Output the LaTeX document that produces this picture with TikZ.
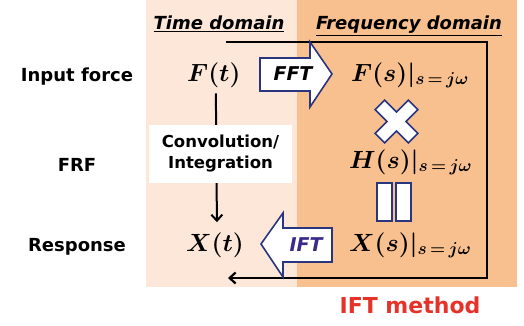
\documentclass[tikz,border=0pt]{standalone}
\usepackage{fontspec}
\setmainfont{DejaVu Sans}
\usepackage{amsmath,bm}
\usetikzlibrary{arrows.meta}
\definecolor{peach}{HTML}{FDE7D8}
\definecolor{apricot}{HTML}{F8C08E}
\definecolor{navy}{HTML}{2A3580}
\definecolor{iftblue}{HTML}{3B2A8C}
\definecolor{redlbl}{HTML}{E5332A}
\newcommand{\atjw}{\hbox{\fontsize{18}{20}\selectfont\boldmath$\bm{s\,{=}\,j\omega}$}}
\tikzstyle{lbl} = [font=\fontsize{18}{20}\selectfont\bfseries, inner sep=0pt, anchor=base]
\tikzstyle{hdr} = [font=\fontsize{18}{20}\selectfont\bfseries\itshape, inner sep=0pt, anchor=base]
\tikzstyle{eq} = [font=\fontsize{26}{28}\selectfont\boldmath, inner sep=0pt, anchor=base west]
\tikzstyle{blk} = [draw=navy, fill=white, line width=1.6pt, line join=miter]
\tikzstyle{tag} = [font=\fontsize{19}{20}\selectfont\bfseries\itshape, inner sep=0pt]

\begin{document}
\begin{tikzpicture}[x=1pt,y=-1pt,>={Straight Barb[length=6pt,width=11pt]}]
  \useasboundingbox (0,0) rectangle (524,325);
  % domain backgrounds
  \fill[peach]   (146,0) rectangle (297,287);
  \fill[apricot] (297,0) rectangle (517,287);

  \node[hdr] (tdom) at (219,29) {\underline{Time domain}};
  \node[hdr] (fdom) at (409,29) {\underline{Frequency domain}};

  \node[lbl] (inp)  at (77,81)  {Input force};
  \node[lbl] (frf)  at (77,171) {FRF};
  \node[lbl] (resp) at (77,251) {Response};

  \node[eq] (Ft) at (187,81)  {$F(t)$};
  \node[eq] (Fs) at (351,81)  {$F(s)|_{\atjw}$};
  \node[eq] (Hs) at (349,168) {$H(s)|_{\atjw}$};
  \node[eq] (Xs) at (349,251) {$X(s)|_{\atjw}$};
  \node[eq] (Xt) at (186,251) {$X(t)$};

  % IFT loop
  \coordinate (lpA) at (226,42);
  \coordinate (lpB) at (487,42);
  \coordinate (lpC) at (487,278);
  \coordinate (lpD) at (228,278);
  \draw[line width=2.2pt,->] (lpA) -- (lpB) -- (lpC) -- (lpD);

  % convolution path
  \draw[line width=2pt,->,shorten <=6pt,shorten >=10pt]
    ([xshift=2pt]Ft.south) -- ([xshift=2pt]Xt.north);
  \node[fill=white,font=\fontsize{16.5}{21}\selectfont\bfseries,align=center,
        minimum width=143pt,minimum height=58pt] (conv) at (220.5,154)
        {Convolution/\\Integration};

  % FFT / IFT block arrows
  \draw[blk] (260,58) -- (310,58) -- (310,42) -- (332,74) -- (310,107)
    -- (310,91) -- (260,91) -- cycle;
  \node[tag] (fft) at (293,74) {FFT};
  \draw[blk] (332,228) -- (283,228) -- (283,213) -- (261,244) -- (283,277)
    -- (283,262) -- (332,262) -- cycle;
  \node[tag,text=iftblue] (ift) at (306,245) {IFT};

  % times and equals signs
  \draw[blk,shift={(396.5,121.5)},rotate=45]
    (23.5,6.7) -- (6.7,6.7) -- (6.7,23.5) -- (-6.7,23.5) -- (-6.7,6.7)
    -- (-23.5,6.7) -- (-23.5,-6.7) -- (-6.7,-6.7) -- (-6.7,-23.5)
    -- (6.7,-23.5) -- (6.7,-6.7) -- (23.5,-6.7) -- cycle;
  \draw[blk] (377,183) rectangle (392,221);
  \draw[blk] (396,183) rectangle (411,221);

  \node[font=\fontsize{22}{28}\selectfont\bfseries,text=redlbl] (meth) at (410,305) {IFT method};
\end{tikzpicture}
\end{document}
